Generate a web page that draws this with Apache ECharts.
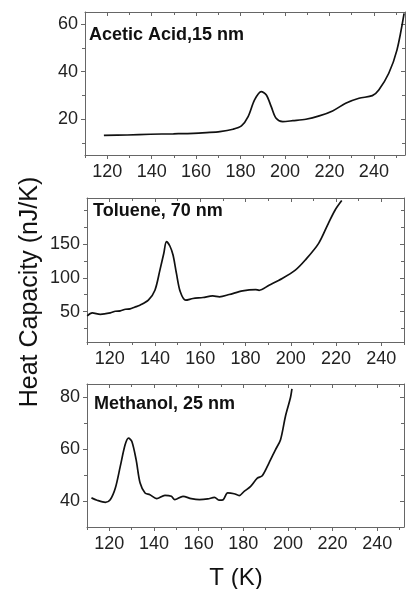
<!DOCTYPE html>
<html>
<head>
<meta charset="utf-8">
<script src="https://cdn.jsdelivr.net/npm/echarts@6/dist/echarts.min.js"></script>
<style>
  html, body { margin: 0; padding: 0; background: #fff; }
  #chart { width: 406px; height: 589px; }
</style>
</head>
<body>
<div id="chart"></div>
<script>
(function () {
  // --- data ---
  var aceticT  = [118.5, 129, 139.4, 149.8, 158.8, 164.7, 170.7, 176.6, 180.4, 183.4, 186.3, 189.3, 191.6, 193.8, 196, 199, 203.5, 209.4, 215.4, 221.4, 227.3, 233.3, 239.3, 242.2, 246.7, 250.4, 253.6];
  var aceticCp = [13.2, 13.4, 13.7, 13.9, 14.1, 14.4, 14.8, 15.8, 17.2, 21.1, 28.1, 31.6, 30.2, 25.3, 20.4, 19, 19.4, 20, 21.4, 23.5, 26.7, 28.8, 29.9, 32.3, 39.3, 49.1, 64.4];

  var tolueneT  = [110.1, 112.3, 115.9, 120.3, 122.5, 124.7, 127, 129, 131, 133.4, 137.1, 140, 142.2, 143.9, 145.1, 146.6, 148, 149.5, 151.2, 153.6, 156.8, 161.2, 165.5, 168.5, 172.8, 178.7, 184.5, 186, 190.4, 196.2, 202, 206.4, 212.3, 216.6, 219.6, 222.5];
  var tolueneCp = [43.6, 48, 46, 48, 50.5, 51, 53.5, 54, 56.5, 59.4, 66.8, 81.6, 111.3, 136, 153.4, 147, 133.6, 106.4, 79.2, 66.8, 69.3, 70.8, 73.2, 71.8, 75.2, 80.7, 82.6, 81.5, 89, 99, 111.3, 126.2, 150.9, 180.6, 200.3, 214.2];

  var methanolT  = [112, 114.5, 118.2, 120.4, 122.7, 124.9, 127.1, 128.6, 130.1, 132, 133.8, 136, 138.2, 141.2, 144.9, 147.8, 149.3, 153, 156.7, 160.4, 164.1, 167.1, 169.3, 171, 173, 175.9, 178.2, 180.4, 183.3, 186.3, 188.5, 191.5, 194.4, 196.7, 198.9, 201.1, 201.8];
  var methanolCp = [41.2, 40.3, 39.5, 40.5, 45, 53.3, 61.7, 64.2, 62.9, 55.9, 46.9, 43.1, 42.4, 40.9, 42.2, 41.8, 40.5, 41.8, 40.9, 40.5, 40.8, 41.4, 40.3, 40.5, 43.1, 42.8, 42.1, 43.7, 45.6, 48.8, 49.7, 54.6, 59.7, 63.6, 72.6, 79.6, 83.1];

  // tick labels
  var xMajor = [120, 140, 160, 180, 200, 220, 240];
  var xMinor = [110, 130, 150, 170, 190, 210, 230, 250];
  var aceticMajor = [20, 40, 60];
  var aceticMinor = [10, 30, 50];
  var tolueneMajor = [50, 100, 150];
  var tolueneMinor = [25, 75, 125, 175, 200];
  var methanolMajor = [40, 60, 80];
  var methanolMinor = [50, 70];

  var FONT = "'Liberation Sans', Arial, sans-serif";
  var LINE = '#666';

  function pairs(xs, ys) {
    var out = [];
    for (var i = 0; i < xs.length; i++) out.push([xs[i], ys[i]]);
    return out;
  }

  var xAxes = [], yAxes = [];

  function tickAxis(list, dim, g, pos, min, max, ticks, len, inside, line, labels) {
    var ax = {
      type: 'value',
      gridIndex: g,
      position: pos,
      min: min,
      max: max,
      axisLine: { show: line, lineStyle: { color: LINE, width: 1 } },
      axisTick: { show: true, inside: inside, length: len, customValues: ticks, lineStyle: { color: LINE, width: 1 } },
      axisLabel: labels ? {
        show: true, customValues: ticks, color: '#222', fontSize: 18, fontFamily: FONT,
        margin: dim === 'x' ? 8 : 7
      } : { show: false },
      splitLine: { show: false }
    };
    list.push(ax);
    return list.length - 1;
  }

  function panel(g, xMin, xMax, yMin, yMax, yMaj, yMin2) {
    var xi = tickAxis(xAxes, 'x', g, 'bottom', xMin, xMax, xMajor, 4, false, true, true);
    tickAxis(xAxes, 'x', g, 'bottom', xMin, xMax, xMinor, 3, false, false, false);
    tickAxis(xAxes, 'x', g, 'top', xMin, xMax, xMajor, 4, true, true, false);
    tickAxis(xAxes, 'x', g, 'top', xMin, xMax, xMinor, 3, true, false, false);
    var yi = tickAxis(yAxes, 'y', g, 'left', yMin, yMax, yMaj, 4, false, true, true);
    tickAxis(yAxes, 'y', g, 'left', yMin, yMax, yMin2, 3, false, false, false);
    tickAxis(yAxes, 'y', g, 'right', yMin, yMax, yMaj, 4, true, true, false);
    tickAxis(yAxes, 'y', g, 'right', yMin, yMax, yMin2, 3, true, false, false);
    return [xi, yi];
  }

  var p1 = panel(0, 110, 254, 5, 65, aceticMajor, aceticMinor);
  var p2 = panel(1, 110, 250, 5, 218, tolueneMajor, tolueneMinor);
  var p3 = panel(2, 110, 252, 30, 85, methanolMajor, methanolMinor);

  function curve(name, p, xs, ys) {
    return {
      name: name,
      type: 'line',
      xAxisIndex: p[0],
      yAxisIndex: p[1],
      data: pairs(xs, ys),
      showSymbol: false,
      smooth: 0.3,
      clip: true,
      lineStyle: { color: '#111', width: 1.7 },
      animation: false
    };
  }

  var myChart = echarts.init(document.getElementById('chart'), null, { renderer: 'canvas' });

  myChart.setOption({
    backgroundColor: '#fff',
    animation: false,
    grid: [
      { left: 85, top: 12, width: 320, height: 143 },
      { left: 87, top: 198, width: 317, height: 144 },
      { left: 87, top: 384, width: 317, height: 143 }
    ],
    xAxis: xAxes,
    yAxis: yAxes,
    series: [
      curve('Acetic Acid', p1, aceticT, aceticCp),
      curve('Toluene', p2, tolueneT, tolueneCp),
      curve('Methanol', p3, methanolT, methanolCp)
    ],
    graphic: [
      { type: 'text', left: 89, top: 26, style: { text: 'Acetic Acid,15 nm', font: 'bold 18px ' + FONT, fill: '#111' } },
      { type: 'text', left: 93, top: 202, style: { text: 'Toluene, 70 nm', font: 'bold 18px ' + FONT, fill: '#111' } },
      { type: 'text', left: 94, top: 395, style: { text: 'Methanol, 25 nm', font: 'bold 18px ' + FONT, fill: '#111' } },
      { type: 'text', x: 236, y: 578, style: { text: 'T (K)', font: '24px ' + FONT, fill: '#111', align: 'center', verticalAlign: 'middle' } },
      { type: 'text', x: 30, y: 292, rotation: Math.PI / 2, style: { text: 'Heat Capacity (nJ/K)', font: '25px ' + FONT, fill: '#111', align: 'center', verticalAlign: 'middle' } }
    ]
  });

  window.addEventListener('resize', function () {
    myChart.resize();
  });
})();
</script>
</body>
</html>
